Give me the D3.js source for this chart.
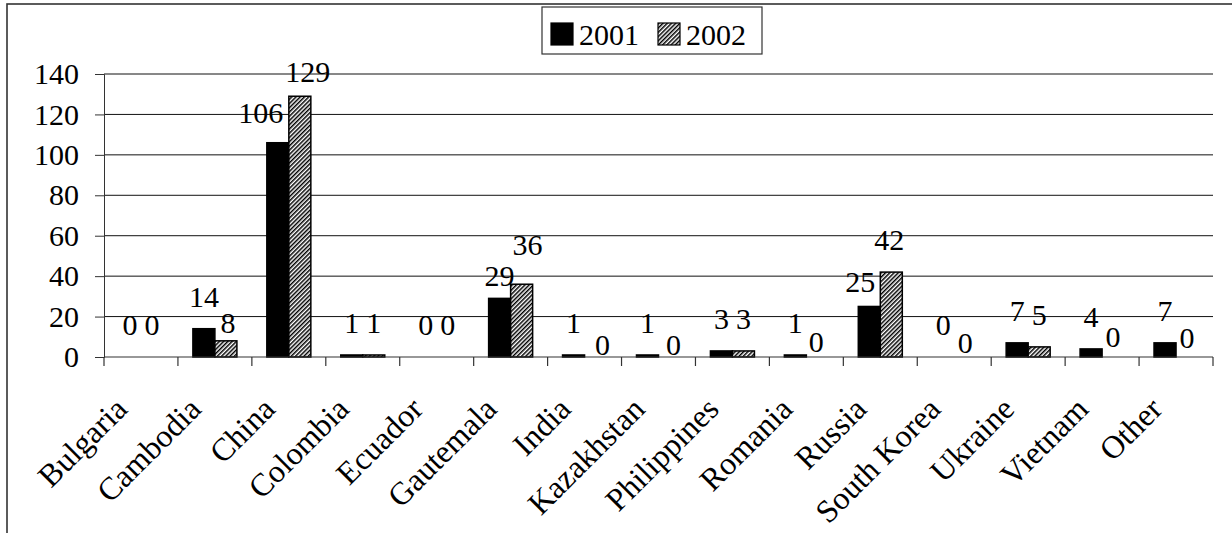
<!DOCTYPE html>
<html>
<head>
<meta charset="utf-8">
<script src="https://cdn.jsdelivr.net/npm/d3@7/dist/d3.min.js"></script>
<style>
  html, body { margin: 0; padding: 0; background: #fff; }
  svg { display: block; }
  text { font-family: "Liberation Serif", "Times New Roman", serif; fill: #000; }
</style>
</head>
<body>
<svg id="chart" width="1232" height="533"></svg>
<script>
// Countries and yearly counts
const categories = ["Bulgaria", "Cambodia", "China", "Colombia", "Ecuador", "Gautemala", "India",
  "Kazakhstan", "Philippines", "Romania", "Russia", "South Korea", "Ukraine", "Vietnam", "Other"];
const seriesNames = ["2001", "2002"];
const values2001 = [0, 14, 106, 1, 0, 29, 1, 1, 3, 1, 25, 0, 7, 4, 7];
const values2002 = [0, 8, 129, 1, 0, 36, 0, 0, 3, 0, 42, 0, 5, 0, 0];
const yTicks = [0, 20, 40, 60, 80, 100, 120, 140];

// Hand-placed value labels: offsets from the default spot above each bar
const labelNudge = {
  "Cambodia|2002": [2, 14],
  "China|2001": [-17, 2],
  "China|2002": [8, 8],
  "Gautemala|2001": [0, 10],
  "Gautemala|2002": [6, -7],
  "India|2002": [7, 20],
  "Kazakhstan|2002": [4, 20],
  "Romania|2002": [-1, 17],
  "Russia|2001": [-9, 8],
  "Russia|2002": [-2, 0],
  "South Korea|2002": [0, 18],
  "Vietnam|2002": [0, 12],
  "Other|2002": [0, 13]
};

const rows = categories.map((c, i) => ({ cat: c, vals: [values2001[i], values2002[i]] }));

const svg = d3.select("#chart");
const FS = 30;      // numbers and legend
const FS_CAT = 32;  // category names

const plot = { left: 104, right: 1213, top: 74, bottom: 357 };

const x0 = d3.scaleBand().domain(categories).range([plot.left, plot.right]).paddingInner(0).paddingOuter(0);
const x1 = d3.scaleBand().domain(seriesNames).range([0, x0.bandwidth()]).paddingInner(0).paddingOuter(0.68);
const y = d3.scaleLinear().domain([0, 140]).range([plot.bottom, plot.top]);

// Hatch fill for the 2002 series
const defs = svg.append("defs");
const pat = defs.append("pattern")
  .attr("id", "hatch").attr("patternUnits", "userSpaceOnUse")
  .attr("width", 3).attr("height", 3)
  .attr("patternTransform", "rotate(45)");
pat.append("rect").attr("width", 3).attr("height", 3).attr("fill", "#fff");
pat.append("line").attr("x1", 0.75).attr("y1", 0).attr("x2", 0.75).attr("y2", 3)
  .attr("stroke", "#000").attr("stroke-width", 1.5);

const fills = { "2001": "#000", "2002": "url(#hatch)" };

// Outer chart border (extends past the page edges on right/bottom)
svg.append("rect").attr("x", 7).attr("y", 4).attr("width", 1300).attr("height", 600)
  .attr("fill", "none").attr("stroke", "#333").attr("stroke-width", 1.6);

// Horizontal gridlines
svg.append("g").selectAll("line").data(yTicks.filter(t => t > 0)).join("line")
  .attr("x1", plot.left).attr("x2", plot.right)
  .attr("y1", d => y(d)).attr("y2", d => y(d))
  .attr("stroke", "#111").attr("stroke-width", 1);

// Y axis
const yAxis = svg.append("g").attr("transform", `translate(${plot.left},0)`)
  .call(d3.axisLeft(y).tickValues(yTicks).tickSize(9).tickPadding(16));
yAxis.attr("font-family", null).attr("font-size", null);
yAxis.select(".domain").attr("stroke", "#333");
yAxis.selectAll(".tick line").attr("stroke", "#333");
yAxis.selectAll("text").attr("font-size", FS).attr("fill", "#000");

// Bars
const groups = svg.append("g").selectAll("g").data(rows).join("g")
  .attr("transform", d => `translate(${x0(d.cat)},0)`);

groups.selectAll("rect").data(d => seriesNames.map((s, k) => ({ cat: d.cat, s, v: d.vals[k] })))
  .join("rect")
  .attr("x", d => x1(d.s))
  .attr("width", x1.bandwidth())
  .attr("y", d => y(d.v))
  .attr("height", d => y(0) - y(d.v))
  .attr("fill", d => fills[d.s])
  .attr("stroke", "#000")
  .attr("stroke-width", d => d.v > 0 ? 1.5 : 0);

// Value labels
groups.selectAll("text.val").data(d => seriesNames.map((s, k) => ({ cat: d.cat, s, v: d.vals[k] })))
  .join("text").attr("class", "val")
  .attr("x", d => x1(d.s) + x1.bandwidth() / 2 + (labelNudge[d.cat + "|" + d.s] || [0, 0])[0])
  .attr("y", d => y(d.v) - 22 + (labelNudge[d.cat + "|" + d.s] || [0, 0])[1])
  .attr("text-anchor", "middle")
  .attr("font-size", FS)
  .text(d => d.v);

// X axis line and category boundary ticks
const xAxis = svg.append("g");
xAxis.append("line").attr("x1", plot.left).attr("x2", plot.right)
  .attr("y1", y(0)).attr("y2", y(0)).attr("stroke", "#333").attr("stroke-width", 1.2);
const bounds = categories.map(c => x0(c)).concat([x0(categories[categories.length - 1]) + x0.bandwidth()]);
xAxis.selectAll("line.tk").data(bounds).join("line").attr("class", "tk")
  .attr("x1", d => d).attr("x2", d => d)
  .attr("y1", y(0)).attr("y2", y(0) + 9)
  .attr("stroke", "#333").attr("stroke-width", 1.2);

// Rotated category labels
xAxis.selectAll("text").data(categories).join("text")
  .attr("transform", d => `translate(${x0(d) + x0.bandwidth() / 2 - 12},${y(0) + 54}) rotate(-45)`)
  .attr("text-anchor", "end")
  .attr("font-size", FS_CAT)
  .text(d => d);

// Legend
const lg = svg.append("g").attr("transform", "translate(542,7)");
lg.append("rect").attr("width", 220).attr("height", 47)
  .attr("fill", "#fff").attr("stroke", "#333").attr("stroke-width", 1.2);
const items = lg.selectAll("g").data(seriesNames).join("g")
  .attr("transform", (d, i) => `translate(${9 + i * 107},16)`);
items.append("rect").attr("width", 22).attr("height", 22)
  .attr("fill", d => fills[d]).attr("stroke", "#000").attr("stroke-width", 1.2);
items.append("text").attr("x", 28).attr("y", 22).attr("font-size", FS).text(d => d);
</script>
</body>
</html>
